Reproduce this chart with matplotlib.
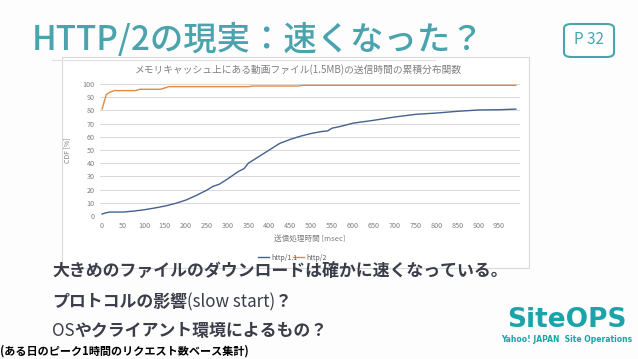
import matplotlib
matplotlib.use("Agg")
import matplotlib.pyplot as plt
from matplotlib.patches import FancyBboxPatch, Rectangle
from matplotlib.lines import Line2D

plt.rcParams['font.family'] = ['Noto Sans CJK JP', 'DejaVu Sans']

# data (msec, CDF %)
ms = [0, 10, 20, 30, 50, 75, 100, 125, 150, 175, 200, 225, 250, 265, 280, 300, 325,
      340, 350, 375, 400, 425, 450, 475, 500, 525, 540, 550, 575, 600, 650, 700,
      750, 800, 850, 900, 950, 990]
http11 = [1.5, 2.5, 3, 3, 3, 3.7, 4.7, 6, 7.5, 9.5, 12, 15.5, 19.5, 22.4, 24, 28,
          33.5, 36, 40, 45, 50, 55, 58, 60.5, 62.5, 64, 64.5, 66.5, 68.2, 70.3, 72.5,
          75, 77, 78, 79.3, 80.3, 80.5, 81]
ms2 = [0, 10, 20, 30, 80, 90, 140, 150, 160, 350, 360, 470, 480, 990]
http2 = [81, 92, 94, 95, 95, 96, 96, 97, 98, 98, 98.5, 98.5, 99, 99]

xticks = list(range(0, 1000, 50))
yticks = list(range(0, 101, 10))

teal = '#4aa3ad'
W, H = 638, 359
fig = plt.figure(figsize=(W/100, H/100), dpi=100)
fig.patch.set_facecolor('#fdfdfd')

def fx(px): return px / W
def fy(py): return 1 - py / H

# chart box
box = Rectangle((fx(62), fy(268)), fx(529) - fx(62), fy(57) - fy(268),
                transform=fig.transFigure, facecolor='white',
                edgecolor='#d9d9d9', lw=0.8)
box.set_zorder(-1)
fig.patches.append(box)

ax = fig.add_axes([fx(100), fy(216), fx(520) - fx(100), fy(84) - fy(216)])
ax.set_zorder(2)
ax.set_facecolor('white')
ax.plot(ms, http11, color='#44618f', lw=1.0, label='http/1.1')
ax.plot(ms2, http2, color='#e08a45', lw=1.0, label='http/2')
ax.set_xlim(-5, 1000)
ax.set_ylim(0, 100)
ax.set_xticks(xticks)
ax.set_yticks(yticks)
ax.tick_params(labelsize=5.2, colors='#7f7f7f', length=0, pad=4)
ax.grid(axis='y', color='#d9d9d9', lw=0.7)
ax.set_axisbelow(True)
for s in ax.spines.values():
    s.set_visible(False)
ax.set_ylabel('CDF [%]', fontsize=5, color='#7f7f7f', labelpad=8)
ax.set_xlabel('送信処理時間 [msec]', fontsize=5.5, color='#7f7f7f', labelpad=4)

fig.text(fx(298), fy(70), 'メモリキャッシュ上にある動画ファイル(1.5MB)の送信時間の累積分布関数',
         ha='center', va='center', fontsize=7, color='#7f7f7f')

# legend
fig.add_artist(Line2D([fx(258), fx(269)], [fy(257), fy(257)], color='#44618f', lw=1))
fig.text(fx(271), fy(258), 'http/1.1', fontsize=5, color='#595959', va='center')
fig.add_artist(Line2D([fx(293), fx(304)], [fy(257), fy(257)], color='#e08a45', lw=1))
fig.text(fx(306), fy(258), 'http/2', fontsize=5, color='#595959', va='center')

# title
fig.text(fx(32), fy(40), 'HTTP/2の現実：速くなった？', fontsize=24, color=teal,
         va='center', ha='left', fontweight='medium')
fig.add_artist(Line2D([fx(52), fx(435)], [fy(60), fy(60)], color='#e0e0e0', lw=0.8))

# page box
fig.patches.append(FancyBboxPatch((fx(564), fy(57)), fx(614) - fx(564), fy(24) - fy(57),
                                  boxstyle='round,pad=0,rounding_size=0.012',
                                  transform=fig.transFigure, facecolor='white',
                                  edgecolor=teal, lw=1.5))
fig.text(fx(589), fy(40), 'P 32', fontsize=11, color=teal, ha='center', va='center')

# body text
body_color = '#3b3e4a'
renderer = fig.canvas.get_renderer()

def seq_text(x_px, y_px, parts):
    x = fx(x_px)
    for s, w in parts:
        t = fig.text(x, fy(y_px), s, fontsize=12.2, color=body_color, fontweight=w,
                     va='center', ha='left')
        bb = t.get_window_extent(renderer)
        x = bb.x1 / fig.bbox.width

seq_text(52, 271, [('大きめのファイルのダウンロードは確かに速くなっている。', 'bold')])
seq_text(52, 302, [('プロトコルの影響', 'bold'), ('(slow start)', 'normal'), ('？', 'bold')])
seq_text(52, 331, [('OS', 'normal'), ('やクライアント環境によるもの？', 'bold')])
fig.text(fx(0), fy(351), '(ある日のピーク1時間のリクエスト数ベース集計)',
         fontsize=8, color='black', fontweight='bold', va='center')

# logo
fig.text(fx(567), fy(320), 'SiteOPS', fontsize=19, color='#1aa3a8', fontweight='bold',
         ha='center', va='center', family=['DejaVu Sans'])
fig.text(fx(567), fy(340), 'Yahoo! JAPAN  Site Operations', fontsize=5.5, color='#1aa3a8',
         fontweight='bold', ha='center', va='center', family=['DejaVu Sans'])

fig.savefig('out.png', dpi=100, facecolor=fig.get_facecolor())
